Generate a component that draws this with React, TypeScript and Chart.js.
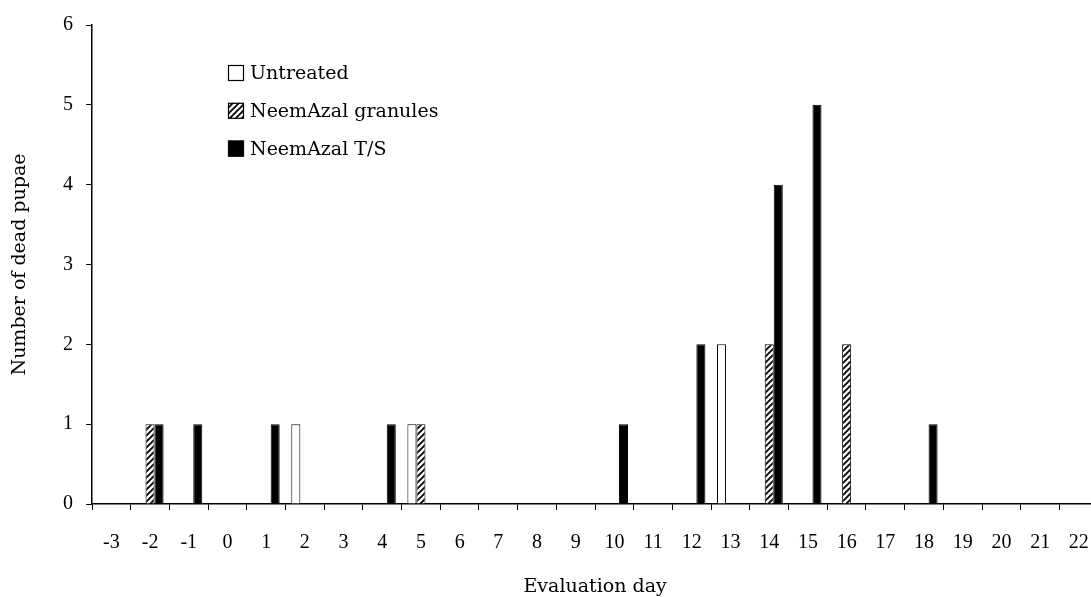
import React, { useEffect, useRef } from "react";
import { Chart, registerables } from "chart.js";

Chart.register(...registerables);

const days = ["-3", "-2", "-1", "0", "1", "2", "3", "4", "5", "6", "7", "8", "9", "10", "11", "12", "13", "14", "15", "16", "17", "18", "19", "20", "21", "22"];
const untreated = [0, 0, 0, 0, 0, 1, 0, 0, 1, 0, 0, 0, 0, 0, 0, 0, 2, 0, 0, 0, 0, 0, 0, 0, 0, 0];
const granules = [0, 1, 0, 0, 0, 0, 0, 0, 1, 0, 0, 0, 0, 0, 0, 0, 0, 2, 0, 2, 0, 0, 0, 0, 0, 0];
const neemTS = [0, 1, 1, 0, 1, 0, 0, 1, 0, 0, 0, 0, 0, 1, 0, 2, 0, 4, 5, 0, 0, 1, 0, 0, 0, 0];
const seriesNames = ["Untreated", "NeemAzal granules", "NeemAzal T/S"];
const yTicks = [0, 1, 2, 3, 4, 5, 6];

const TEXT_FONT = "'DejaVu Serif', serif";
const TICK_FONT = "'Liberation Serif', serif";

function makeHatch(): CanvasPattern | string {
  const c = document.createElement("canvas");
  c.width = 6;
  c.height = 6;
  const g = c.getContext("2d");
  if (!g) return "#888";
  g.fillStyle = "#fff";
  g.fillRect(0, 0, 6, 6);
  g.strokeStyle = "#000";
  g.lineWidth = 1.8;
  g.beginPath();
  g.moveTo(-1, 7);
  g.lineTo(7, -1);
  g.moveTo(-2, 2);
  g.lineTo(2, -2);
  g.moveTo(4, 8);
  g.lineTo(8, 4);
  g.stroke();
  const p = g.createPattern(c, "repeat");
  return p || "#888";
}

export default function App() {
  const ref = useRef<HTMLCanvasElement | null>(null);

  useEffect(() => {
    if (!ref.current) return;
    const hatch = makeHatch();
    const fills: (string | CanvasPattern)[] = ["#ffffff", hatch, "#000000"];

    const legendPlugin = {
      id: "insideLegend",
      afterDraw(chart: any) {
        const { ctx, chartArea } = chart;
        ctx.save();
        const x0 = chartArea.left + 136;
        const y0 = 65;
        const step = 37.8;
        const box = 16;
        ctx.font = `19px ${TEXT_FONT}`;
        ctx.textBaseline = "middle";
        ctx.textAlign = "left";
        seriesNames.forEach((name, i) => {
          const y = y0 + i * step;
          ctx.fillStyle = fills[i];
          ctx.fillRect(x0, y, box, box);
          ctx.strokeStyle = "#000";
          ctx.lineWidth = 1.2;
          ctx.strokeRect(x0 + 0.5, y + 0.5, box - 1, box - 1);
          ctx.fillStyle = "#000";
          ctx.fillText(name, x0 + box + 6, y + box / 2 + 1);
        });
        ctx.restore();
      },
    };

    const dataSets = [untreated, granules, neemTS];
    const chart = new Chart(ref.current, {
      type: "bar",
      data: {
        labels: days,
        datasets: dataSets.map((d, i) => ({
          label: seriesNames[i],
          data: d,
          backgroundColor: fills[i] as any,
          borderColor: "#000",
          borderWidth: (c: any) => (c.raw ? 1 : 0),
          borderSkipped: "bottom" as const,
          categoryPercentage: 0.7,
          barPercentage: 1.0,
        })),
      },
      plugins: [legendPlugin],
      options: {
        animation: false,
        responsive: false,
        devicePixelRatio: 1,
        layout: { padding: { top: 22, right: 8, bottom: 0, left: 0 } },
        plugins: {
          legend: { display: false },
          tooltip: { enabled: false },
        },
        scales: {
          x: {
            type: "category",
            offset: true,
            afterFit: (s: any) => {
              s.height = 93;
            },
            grid: {
              offset: true,
              drawOnChartArea: false,
              drawTicks: true,
              tickLength: 6,
              color: "#000",
              tickColor: "#000",
              tickWidth: 1,
            },
            border: { color: "#000", width: 1.5 },
            ticks: {
              autoSkip: false,
              maxRotation: 0,
              minRotation: 0,
              padding: 21,
              color: "#000",
              font: { family: TICK_FONT, size: 20 },
            },
            title: {
              display: true,
              text: "Evaluation day",
              color: "#000",
              font: { family: TEXT_FONT, size: 19, lineHeight: 1 },
              padding: { top: 0, bottom: 0 },
            },
          },
          y: {
            min: 0,
            max: 6,
            afterFit: (s: any) => {
              s.width = 92;
            },
            afterBuildTicks: (s: any) => {
              s.ticks = yTicks.map((v) => ({ value: v }));
            },
            grid: {
              drawOnChartArea: false,
              drawTicks: true,
              tickLength: 6,
              color: "#000",
              tickColor: "#000",
              tickWidth: 1,
            },
            border: { color: "#000", width: 1.5 },
            ticks: {
              stepSize: 1,
              padding: 13,
              color: "#000",
              font: { family: TICK_FONT, size: 20 },
            },
            title: {
              display: true,
              text: "Number of dead pupae",
              color: "#000",
              font: { family: TEXT_FONT, size: 19, lineHeight: 1.2 },
              padding: { top: 9, bottom: 0 },
            },
          },
        },
      },
    });
    return () => chart.destroy();
  }, []);

  return (
    <div
      style={{
        position: "fixed",
        left: 0,
        top: 0,
        width: 1091,
        height: 597,
        overflow: "hidden",
        background: "#fff",
      }}
    >
      <canvas ref={ref} width={1110} height={597} style={{ width: 1110, height: 597, display: "block" }} />
    </div>
  );
}
